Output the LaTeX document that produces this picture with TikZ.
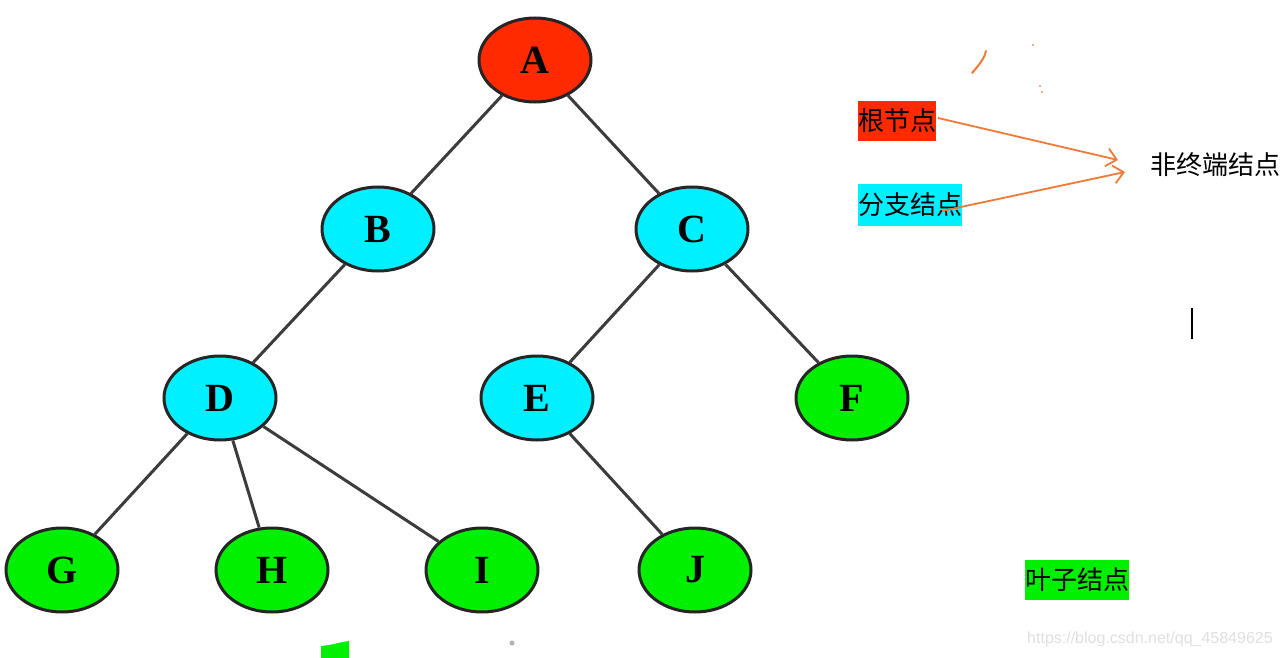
\documentclass[tikz,border=0pt]{standalone}
\usepackage{fontspec}
\setmainfont{Liberation Serif}
\newfontfamily\cjk{Noto Sans CJK SC}
\newfontfamily\wm{Liberation Sans}
\usetikzlibrary{shapes.geometric,arrows.meta}
\definecolor{rootred}{HTML}{FF2A00}
\definecolor{branchcyan}{HTML}{00F0FF}
\definecolor{leafgreen}{HTML}{00F000}
\definecolor{edgegray}{HTML}{3C3C3C}
\definecolor{rimgray}{HTML}{252525}
\definecolor{arroworange}{HTML}{F07A35}
\tikzset{
  tnode/.style={ellipse, draw=rimgray, line width=3pt, minimum width=112pt, minimum height=84pt, inner sep=0pt,
    font=\bfseries\fontsize{40}{40}\selectfont},
  rootn/.style={tnode, fill=rootred},
  branchn/.style={tnode, fill=branchcyan},
  leafn/.style={tnode, fill=leafgreen},
  tedge/.style={draw=edgegray, line width=3pt},
  legend/.style={font=\cjk\fontsize{26}{26}\selectfont, inner xsep=0pt, inner ysep=8.5pt, text=black},
  oarrow/.style={draw=arroworange, line width=1.8pt, -{Straight Barb[length=10pt,width=18pt,line width=1.8pt]}}
}
\begin{document}
\begin{tikzpicture}[x=1pt,y=-1pt]
\useasboundingbox[fill=white] (0,0) rectangle (1280,658);
% tree nodes
\node[rootn]   (A) at (535,60)  {A};
\node[branchn] (B) at (378,229) {B};
\node[branchn] (C) at (692,229) {C};
\node[branchn] (D) at (220,398) {D};
\node[branchn] (E) at (537,398) {E};
\node[leafn]   (F) at (852,398) {F};
\node[leafn]   (G) at (62,570)  {G};
\node[leafn]   (H) at (272,570) {H};
\node[leafn]   (I) at (482,570) {I};
\node[leafn]   (J) at (695,570) {J};
% edges
\draw[tedge] (A) -- (B);
\draw[tedge] (A) -- (C);
\draw[tedge] (B) -- (D);
\draw[tedge] (C) -- (E);
\draw[tedge] (C) -- (F);
\draw[tedge] (D) -- (G);
\draw[tedge] (D) -- (H);
\draw[tedge] (D) -- (I);
\draw[tedge] (E) -- (J);
% legend
\node[legend, fill=rootred, anchor=west] (rootlbl) at (858,121) {根节点};
\node[legend, fill=branchcyan, anchor=west] (branchlbl) at (858,205) {分支结点};
\node[legend, anchor=west] (nonterm) at (1150,165) {非终端结点};
\node[legend, fill=leafgreen, anchor=west] (leaflbl) at (1025,580) {叶子结点};
\coordinate (s1) at (938,118);
\coordinate (t1) at (1118,160);
\coordinate (s2) at (942,211);
\coordinate (t2) at (1125,172);
\draw[oarrow] (s1) -- (t1);
\draw[oarrow] (s2) -- (t2);
% stray marks
\draw[arroworange, line width=2pt, line cap=round] (972,73) .. controls (980,64) and (985,57) .. (986,51);
\fill[arroworange!60] (1032,44) rectangle (1034,46);
\fill[arroworange!60] (1039,85) rectangle (1041,87);
\fill[arroworange!60] (1041,91) rectangle (1043,93);
\draw[black, line width=1.5pt] (1192,308) -- (1192,339);
\fill[leafgreen] (321,658) -- (321,646) .. controls (333,645) and (340,642) .. (349,641) -- (349,658) -- cycle;
\fill[gray!60] (512,643) circle (2.5);
% watermark
\node[font=\wm\fontsize{16}{16}\selectfont, text=black!12, anchor=west, inner sep=0pt] (mark) at (1027,639) {https://blog.csdn.net/qq\_45849625};
\end{tikzpicture}
\end{document}
